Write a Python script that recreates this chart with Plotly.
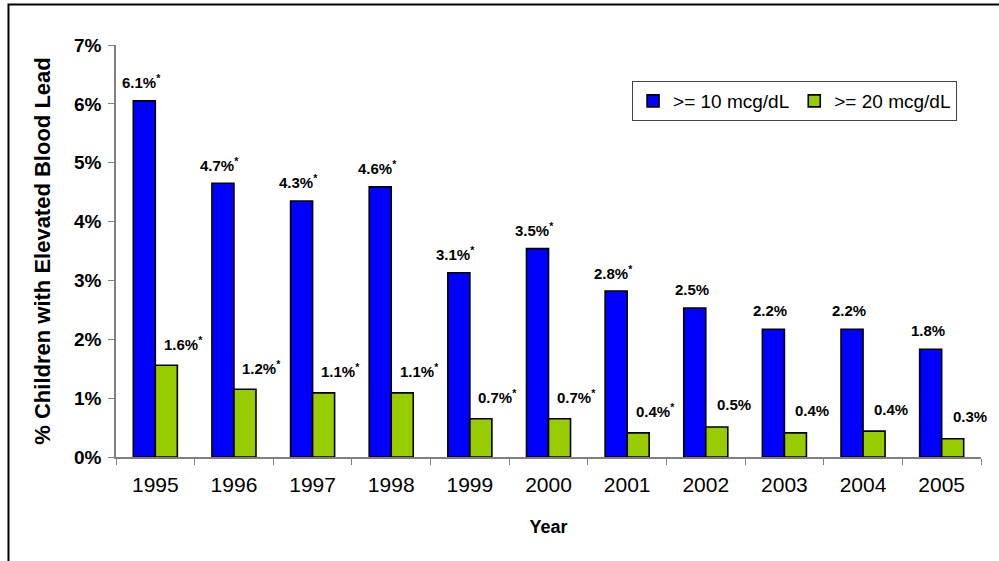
import plotly.graph_objects as go

years = ["1995", "1996", "1997", "1998", "1999", "2000", "2001", "2002", "2003", "2004", "2005"]
pct_10 = [6.05, 4.65, 4.35, 4.59, 3.13, 3.54, 2.82, 2.53, 2.17, 2.17, 1.83]
pct_20 = [1.56, 1.15, 1.09, 1.09, 0.65, 0.65, 0.41, 0.51, 0.41, 0.44, 0.31]
labels_10 = ["6.1%*", "4.7%*", "4.3%*", "4.6%*", "3.1%*", "3.5%*", "2.8%*", "2.5%", "2.2%", "2.2%", "1.8%"]
labels_20 = ["1.6%*", "1.2%*", "1.1%*", "1.1%*", "0.7%*", "0.7%*", "0.4%*", "0.5%", "0.4%", "0.4%", "0.3%"]

FONT = "Liberation Sans, Arial, sans-serif"

fig = go.Figure()
fig.add_trace(go.Bar(x=years, y=pct_10, name=">= 10 mcg/dL",
                     marker=dict(color="#0000ff", line=dict(color="black", width=1.6))))
fig.add_trace(go.Bar(x=years, y=pct_20, name=">= 20 mcg/dL",
                     marker=dict(color="#99cc00", line=dict(color="black", width=1.6))))


def lbl(s):
    # bold label, the asterisk is small and raised
    return "<b>" + s.replace("*", "<sup>*</sup>") + "</b>"


# data labels, placed the way they sit in the original (hand-moved in Excel)
# x given as category index so the numeric-looking years are not read as numbers
for i in range(len(years)):
    fig.add_annotation(x=i, y=pct_10[i], text=lbl(labels_10[i]), showarrow=False,
                       xshift=-14, yshift=19, font=dict(family=FONT, size=15, color="black"))
    fig.add_annotation(x=i, y=pct_20[i], text=lbl(labels_20[i]), showarrow=False,
                       xshift=28, yshift=22, font=dict(family=FONT, size=15, color="black"))

# outer frame (only top and left edges fall inside the picture)
fig.add_shape(type="rect", xref="paper", yref="paper",
              x0=-0.1243, x1=1.1, y0=-0.4, y1=1.0983,
              line=dict(color="black", width=2), layer="below")

fig.update_layout(
    width=999, height=561,
    margin=dict(l=116, r=18, t=45, b=104),
    plot_bgcolor="white", paper_bgcolor="white",
    barmode="group", bargap=0.44, bargroupgap=0,
    font=dict(family=FONT, color="black"),
    showlegend=True,
    legend=dict(orientation="h", x=0.5966, y=0.9126, xanchor="left", yanchor="top",
                bordercolor="#444444", borderwidth=1, bgcolor="white",
                font=dict(family=FONT, size=19), itemwidth=30),
)
fig.update_xaxes(
    type="category", automargin=False, range=[-0.5, len(years) - 0.5],
    showline=True, linecolor="#808080", linewidth=1.5,
    ticks="outside", ticklen=6, tickcolor="#808080", tickson="boundaries",
    tickfont=dict(family=FONT, size=21), ticklabelstandoff=8, tickangle=0,
    title=dict(text="<b>Year</b>", font=dict(family=FONT, size=18), standoff=25),
)
fig.update_yaxes(
    automargin=False,
    range=[0, 7], dtick=1, tickformat=".0f", ticksuffix="%",
    showline=True, linecolor="#808080", linewidth=1.5,
    ticks="outside", ticklen=6, tickcolor="#808080",
    showgrid=False, zeroline=False,
    tickfont=dict(family=FONT, size=19, weight="bold"), ticklabelstandoff=3,
    title=dict(text="<b>% Children with Elevated Blood Lead</b>", font=dict(family=FONT, size=22), standoff=17),
)

fig.write_html("out.html", config={"displayModeBar": False},
               post_script="document.body.style.margin='0';")
